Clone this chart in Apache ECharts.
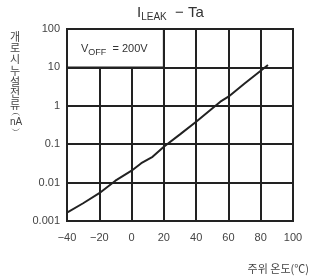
<!DOCTYPE html>
<html>
<head>
<meta charset="utf-8">
<script src="https://cdn.jsdelivr.net/npm/echarts@6/dist/echarts.min.js"></script>
<style>
    html, body {margin: 0; padding: 0; background: #fff;}
    #main {width: 319px; height: 278px;}
</style>
</head>
<body>
<div id="main"></div>
<script>
    // Ta (°C) vs leakage current (nA)
    var temps = [-40, -30, -20, -10, 0, 6, 13, 20, 30, 40, 55, 60, 70, 80, 84.5];
    var leak = [0.00165, 0.0029, 0.0053, 0.0112, 0.0204, 0.032, 0.047, 0.086, 0.18, 0.385, 1.28, 1.73, 3.8, 8.2, 11.5];
    var xTicks = [-40, -20, 0, 20, 40, 60, 80, 100];
    var yTicks = ['0.001', '0.01', '0.1', '1', '10', '100'];
    var yLabelChars = ['개', '로', '시', '누', '설', '전', '류'];

    var chart = echarts.init(document.getElementById('main'));
    var font = '"Liberation Sans", Arial, sans-serif';
    var ink = '#222';

    var lineData = temps.map(function (t, i) {
        return [t, leak[i]];
    });

    var option = {
        animation: false,
        textStyle: {fontFamily: font},
        grid: {
            left: 67, top: 29, width: 226, height: 192,
            show: true, borderColor: ink, borderWidth: 2
        },
        xAxis: {
            type: 'value',
            min: -40, max: 100, interval: 20,
            axisLine: {show: false},
            axisTick: {show: false},
            splitLine: {lineStyle: {color: ink, width: 2}},
            axisLabel: {
                margin: 11, fontSize: 11, color: '#444',
                formatter: function (v) {
                    return v < 0 ? '\u2212' + (-v) : String(v);
                }
            }
        },
        yAxis: {
            type: 'log', logBase: 10,
            min: 0.001, max: 100,
            axisLine: {show: false},
            axisTick: {show: false},
            splitLine: {lineStyle: {color: ink, width: 2}},
            axisLabel: {
                margin: 7, fontSize: 11, color: '#444',
                formatter: function (v) {
                    var e = Math.round(Math.log10(v));
                    return yTicks[e + 3];
                }
            }
        },
        series: [{
            type: 'line',
            data: lineData,
            symbol: 'none',
            lineStyle: {color: ink, width: 2},
            z: 5,
            markArea: {
                silent: true,
                itemStyle: {color: '#fff', borderColor: ink, borderWidth: 2, opacity: 1},
                data: [[{coord: [-40, 100]}, {coord: [20, 10]}]]
            }
        }],
        graphic: [
            {
                type: 'text', left: 137, top: 5, z: 10,
                style: {
                    rich: {
                        a: {fontSize: 15, fontFamily: font, fill: '#333', lineHeight: 19},
                        b: {fontSize: 10, fontFamily: font, fill: '#333', lineHeight: 19, verticalAlign: 'bottom', padding: [6, 0, 0, 0]}
                    },
                    text: '{a|I}{b|LEAK}{a|  \u2212 Ta}'
                }
            },
            {
                type: 'text', left: 81, top: 43, z: 10,
                style: {
                    rich: {
                        a: {fontSize: 11, fontFamily: font, fill: '#333', lineHeight: 16},
                        b: {fontSize: 9, fontFamily: font, fill: '#333', lineHeight: 16, verticalAlign: 'bottom', padding: [5, 0, 0, 0]}
                    },
                    text: '{a|V}{b|OFF}{a|  = 200V}'
                }
            },
            {
                type: 'text', left: 10, top: 31, z: 10,
                style: {
                    text: yLabelChars.join('\n'),
                    font: '11px "Noto Sans CJK KR"',
                    lineHeight: 11.3,
                    fill: '#444'
                }
            },
            {
                type: 'text', x: 16, y: 122, z: 10,
                style: {
                    text: '\uFE35\nnA\n\uFE36',
                    font: '10px ' + font,
                    lineHeight: 9,
                    fill: '#444',
                    align: 'center',
                    verticalAlign: 'middle'
                }
            },
            {
                type: 'text', right: 10, top: 263, z: 10,
                style: {
                    text: '주위 온도(℃)',
                    font: '11px "Noto Sans CJK KR"',
                    fill: '#444'
                }
            }
        ]
    };
    chart.setOption(option);
</script>
</body>
</html>
